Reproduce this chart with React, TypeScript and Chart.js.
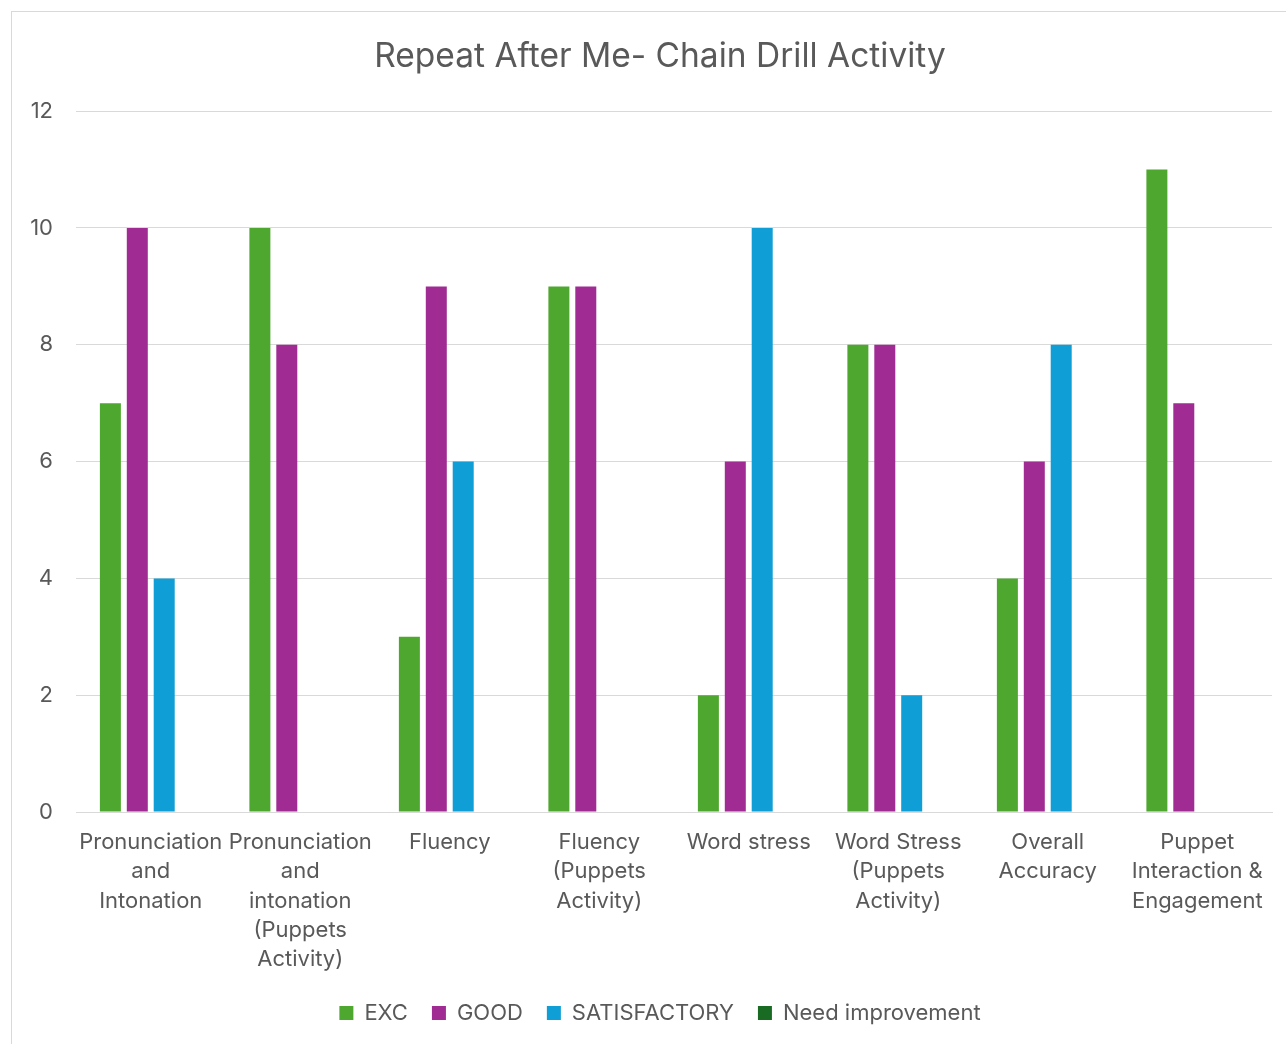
import React, { useEffect, useRef } from "react";
import { Chart, registerables } from "chart.js";
Chart.register(...registerables);

const categories: string[][] = [
  ["Pronunciation", "and", "Intonation"],
  ["Pronunciation", "and", "intonation", "(Puppets", "Activity)"],
  ["Fluency"],
  ["Fluency", "(Puppets", "Activity)"],
  ["Word stress"],
  ["Word Stress", "(Puppets", "Activity)"],
  ["Overall", "Accuracy"],
  ["Puppet", "Interaction &", "Engagement"],
];
const seriesNames = ["EXC", "GOOD", "SATISFACTORY", "Need improvement"];
const exc = [7, 10, 3, 9, 2, 8, 4, 11];
const good = [10, 8, 9, 9, 6, 8, 6, 7];
const satisfactory = [4, 0, 6, 0, 10, 2, 8, 0];
const needImprovement = [0, 0, 0, 0, 0, 0, 0, 0];
const seriesColors = ["#4EA72E", "#A02B93", "#0F9ED5", "#196B24"];
const yMin = 0;
const yMax = 12;
const yStep = 2;
const titleText = "Repeat After Me- Chain Drill Activity";

const FONT = "Inter, 'Open Sans', sans-serif";
const TEXT = "#595959";

export default function App() {
  const ref = useRef<HTMLCanvasElement | null>(null);
  useEffect(() => {
    if (!ref.current) return;
    const values = [exc, good, satisfactory, needImprovement];
    const chart = new Chart(ref.current, {
      type: "bar",
      data: {
        labels: categories,
        datasets: seriesNames.map((name, i) => ({
          label: name,
          data: values[i],
          backgroundColor: seriesColors[i],
          borderWidth: 0,
          categoryPercentage: 0.72,
          barPercentage: 0.78,
        })),
      },
      options: {
        animation: false,
        responsive: false,
        maintainAspectRatio: false,
        layout: { padding: { left: 0, right: 0, top: 0, bottom: 10 } },
        plugins: {
          title: {
            display: true,
            text: titleText,
            color: TEXT,
            font: { family: FONT, size: 33.5, weight: "normal" },
            padding: { top: 25, bottom: 34 },
          },
          legend: {
            position: "bottom",
            labels: {
              color: TEXT,
              font: { family: FONT, size: 22 },
              boxWidth: 14,
              boxHeight: 14,
              padding: 24,
            },
          },
          tooltip: { enabled: false },
        },
        scales: {
          x: {
            afterFit: (s: any) => {
              s.height = 166;
            },
            grid: { display: false, drawTicks: false },
            border: { display: true, color: "#d9d9d9", width: 1 },
            ticks: {
              color: TEXT,
              font: { family: FONT, size: 22, lineHeight: 1.33 },
              autoSkip: false,
              maxRotation: 0,
              minRotation: 0,
              padding: 16,
            },
          },
          y: {
            min: yMin,
            max: yMax,
            afterFit: (s: any) => {
              s.width = 64;
            },
            grid: { color: "#d9d9d9", lineWidth: 1, drawTicks: false },
            border: { display: false },
            ticks: {
              stepSize: yStep,
              color: TEXT,
              font: { family: FONT, size: 22 },
              padding: 23,
            },
          },
          yRight: {
            type: "linear",
            position: "right",
            display: true,
            min: yMin,
            max: yMax,
            afterFit: (s: any) => {
              s.width = 36;
            },
            grid: { display: false, drawTicks: false },
            border: { display: false },
            ticks: { display: false },
          },
        },
      },
    });
    return () => chart.destroy();
  }, []);
  return (
    <div
      style={{
        position: "fixed",
        left: 11,
        top: 11,
        width: 1300,
        height: 1050,
        border: "1px solid #d9d9d9",
        background: "#fff",
      }}
    >
      <canvas ref={ref} width={1296} height={1032} style={{ display: "block" }} />
    </div>
  );
}
